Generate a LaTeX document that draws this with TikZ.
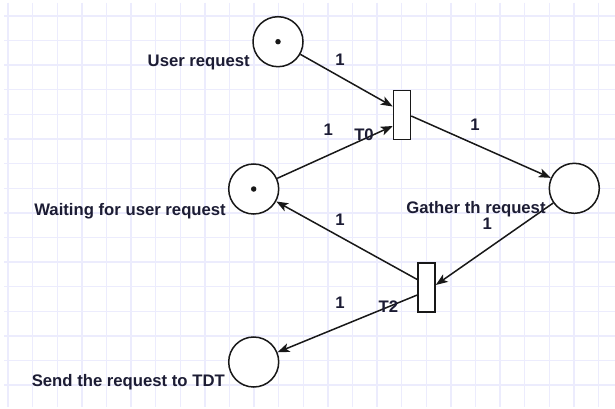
\documentclass[tikz,border=0pt]{standalone}
\usepackage{fontspec}
\setmainfont{Liberation Sans}
\usetikzlibrary{arrows.meta,calc}
\definecolor{gridc}{RGB}{236,236,253}
\definecolor{ink}{RGB}{24,24,24}
\definecolor{txt}{RGB}{28,28,52}
\tikzset{
  place/.style={circle, draw=ink, line width=1.5pt, fill=white, minimum size=50pt, inner sep=0pt},
  trans/.style={rectangle, draw=ink, line width=1.5pt, fill=white, minimum width=17pt, minimum height=49pt, inner sep=0pt},
  token/.style={circle, fill=ink, minimum size=5.5pt, inner sep=0pt},
  arc/.style={draw=ink, line width=1.5pt, -{Stealth[length=12pt, width=9pt, inset=3pt]}},
  lbl/.style={text=txt, font=\fontsize{16.7}{19}\selectfont\bfseries, inner sep=0pt},
  wt/.style={text=txt, font=\fontsize{16.7}{19}\selectfont\bfseries, inner sep=0pt}
}
\begin{document}
\begin{tikzpicture}[x=1pt, y=-1pt]
  % canvas and background grid
  \fill[white] (0,0) rectangle (615,409);
  \useasboundingbox (0,0) rectangle (615,409);
  \foreach \i in {0,...,25} {
    \draw[gridc, line width=1.4pt] ({8+24.6*\i},3) -- ({8+24.6*\i},407);
  }
  \foreach \j in {0,...,16} {
    \draw[gridc, line width=1.4pt] (4,{16+24.6*\j}) -- (615,{16+24.6*\j});
  }

  % places
  \node[place] (user)   at (278,41.7)  {};
  \node[place] (wait)   at (253.7,189) {};
  \node[place] (gather) at (574.3,188.3) {};
  \node[place] (send)   at (253.7,362) {};
  \node[token] (tokU) at (user.center) {};
  \node[token] (tokW) at (wait.center) {};

  % transitions
  \node[trans] (t0) at (402,115) {};
  \node[trans] (t2) at (426.5,287.5) {};

  % arcs
  \draw[arc] (user) -- ([yshift=8.5pt]t0.west);
  \draw[arc] (wait) -- ([yshift=-11pt]t0.west);
  \draw[arc] ([yshift=-1pt]t0.east) -- (gather);
  \draw[arc] (gather) -- ([yshift=2.5pt]t2.east);
  \draw[arc] ([yshift=8pt]t2.west) -- (wait);
  \draw[arc] ([yshift=-7.5pt]t2.west) -- (send);

  % place names
  \node[lbl, anchor=base east] (nUser)   at (250,66.5)  {User request};
  \node[lbl, anchor=base east] (nWait)   at (226,215)   {Waiting for user request};
  \node[lbl, anchor=base]      (nGather) at (476,213.3) {Gather th request};
  \node[lbl, anchor=base east] (nSend)   at (225,386.7) {Send the request to TDT};

  % transition names
  \node[lbl] (nT0) at (364,135) {T0};
  \node[lbl] (nT2) at (388.3,307) {T2};

  % arc weights
  \node[wt] (w1) at (340,60)    {1};
  \node[wt] (w2) at (328.3,130) {1};
  \node[wt] (w3) at (475,125)   {1};
  \node[wt] (w4) at (487.3,224) {1};
  \node[wt] (w5) at (340,219.3) {1};
  \node[wt] (w6) at (340,303)   {1};
\end{tikzpicture}
\end{document}
